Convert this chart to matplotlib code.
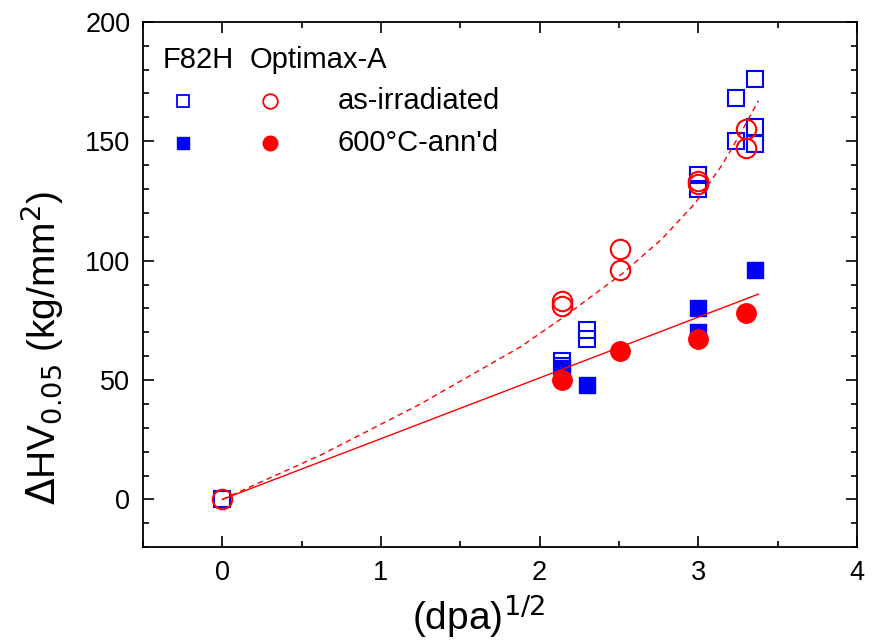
import matplotlib.pyplot as plt
import numpy as np

plt.rcParams['font.family'] = ['Liberation Sans', 'DejaVu Sans']

# F82H, as-irradiated (open squares)
f82h_irr_x = [0, 2.14, 2.14, 2.30, 2.30, 3.0, 3.0, 3.24, 3.24, 3.36, 3.36, 3.36]
f82h_irr_y = [0, 58, 56, 71, 67, 136, 130, 168, 150, 176, 156, 149]
# F82H, 600C annealed (filled squares)
f82h_ann_x = [2.14, 2.30, 3.0, 3.0, 3.36]
f82h_ann_y = [55, 48, 80, 70, 96]
# Optimax-A, as-irradiated (open circles)
opt_irr_x = [0, 2.14, 2.14, 2.51, 2.51, 3.0, 3.0, 3.30, 3.30]
opt_irr_y = [0, 83, 81, 105, 96, 133.5, 132, 155, 147]
# Optimax-A, 600C annealed (filled circles)
opt_ann_x = [2.14, 2.51, 3.0, 3.30]
opt_ann_y = [50, 62, 67, 78]

# fit lines
fit_irr_x = [0, 0.63, 1.25, 1.88, 2.15, 2.52, 2.77, 2.98, 3.15, 3.27, 3.38]
fit_irr_y = [0, 18.9, 40, 63.9, 76.3, 94.5, 109, 124, 140, 153.7, 167]
fit_ann_x = [0, 3.38]
fit_ann_y = [0, 86]

blue = '#0000ff'
red = '#ff0000'

fig = plt.figure(figsize=(8.77, 6.43), dpi=100)
ax = fig.add_axes([0.163, 0.149, 0.814, 0.817])

ax.plot(f82h_irr_x, f82h_irr_y, 's', ms=12, mfc='none', mec=blue, mew=1.5, zorder=3)
ax.plot(f82h_ann_x, f82h_ann_y, 's', ms=12, mfc=blue, mec=blue, zorder=3)
ax.plot(opt_irr_x, opt_irr_y, 'o', ms=14, mfc='none', mec=red, mew=1.5, zorder=4)
ax.plot(opt_ann_x, opt_ann_y, 'o', ms=14, mfc=red, mec=red, zorder=4)

ax.plot(fit_irr_x, fit_irr_y, '--', color=red, lw=1, dashes=(4, 3), zorder=5)
ax.plot(fit_ann_x, fit_ann_y, '-', color=red, lw=1, zorder=5)

ax.set_xlim(-0.5, 4)
ax.set_ylim(-20, 200)
ax.set_xticks([0, 1, 2, 3, 4])
ax.set_xticks(np.arange(-0.5, 4.01, 0.5), minor=True)
ax.set_yticks([0, 50, 100, 150, 200])
ax.set_yticks(np.arange(-20, 201, 10), minor=True)
ax.tick_params(which='both', direction='in', top=True, right=True, width=1.2)
ax.tick_params(which='major', length=8, labelsize=19.5, pad=9)
ax.tick_params(which='minor', length=4)
for s in ax.spines.values():
    s.set_linewidth(1.3)

ax.set_xlabel('(dpa)$^{1/2}$', fontsize=28)
ax.set_ylabel(r'$\Delta$HV$_{0.05}$ (kg/mm$^2$)', fontsize=28)
ax.xaxis.set_label_coords(0.47, -0.085)
ax.yaxis.set_label_coords(-0.108, 0.38)

# legend block
tr = ax.transAxes
ax.text(0.028, 0.928, 'F82H', transform=tr, fontsize=21, va='center')
ax.text(0.150, 0.928, 'Optimax-A', transform=tr, fontsize=21, va='center')
ax.plot([0.056], [0.85], 's', ms=9, mfc='none', mec=blue, mew=1.3, transform=tr)
ax.plot([0.178], [0.85], 'o', ms=10.5, mfc='none', mec=red, mew=1.3, transform=tr)
ax.plot([0.056], [0.77], 's', ms=9, mfc=blue, mec=blue, transform=tr)
ax.plot([0.178], [0.77], 'o', ms=10.5, mfc=red, mec=red, transform=tr)
ax.text(0.273, 0.85, 'as-irradiated', transform=tr, fontsize=21, va='center')
ax.text(0.273, 0.77, "600°C-ann'd", transform=tr, fontsize=21, va='center')

fig.savefig('out.png', dpi=100)
